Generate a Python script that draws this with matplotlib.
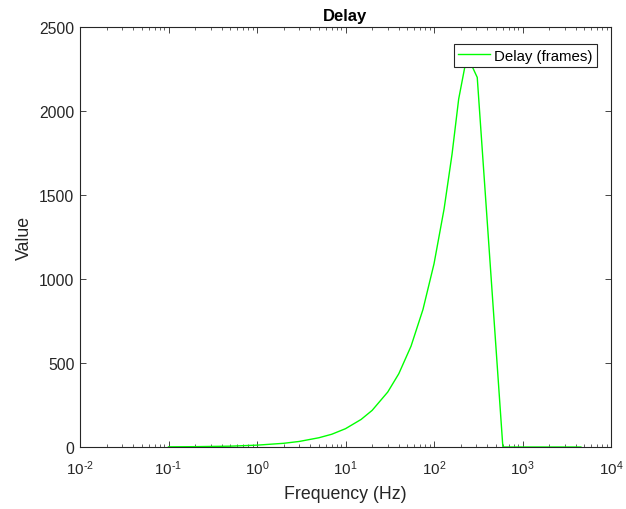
import matplotlib
matplotlib.use('Agg')
import matplotlib.pyplot as plt
from matplotlib.ticker import LogLocator, FixedLocator, FuncFormatter
import numpy as np

# values
freq_hz = [0.1, 0.2, 0.5, 1, 2, 3, 5, 7, 10, 15, 20, 30, 40, 55, 75, 100,
           130, 160, 190, 240, 275, 308, 600, 1000, 2000, 4570]
delay_frames = [1, 2, 5, 11, 22, 33, 55, 76, 109, 164, 218, 327, 436, 600, 818, 1090,
                1417, 1744, 2071, 2350, 2256, 2200, 0, 0, 0, 0]
y_ticks = [0, 500, 1000, 1500, 2000, 2500]

plt.rcParams['font.family'] = ['Liberation Sans', 'DejaVu Sans']
plt.rcParams['mathtext.fontset'] = 'custom'
plt.rcParams['mathtext.rm'] = 'Liberation Sans'
plt.rcParams['mathtext.it'] = 'Liberation Sans'
plt.rcParams['mathtext.default'] = 'regular'
edge = '#262626'

fig = plt.figure(figsize=(6.26, 5.10), dpi=100)
ax = fig.add_axes([80 / 626, 1 - 448 / 510, 531 / 626, 420 / 510])

ax.plot(freq_hz, delay_frames, color='#00ff00', lw=1.0, label='Delay (frames)')

ax.set_xscale('log')
ax.set_xlim(1e-2, 1e4)
ax.set_ylim(0, 2500)
ax.yaxis.set_major_locator(FixedLocator(y_ticks))
ax.xaxis.set_major_locator(LogLocator(base=10, numticks=10))
ax.xaxis.set_minor_locator(LogLocator(base=10, subs=range(2, 10), numticks=20))
ax.xaxis.set_major_formatter(FuncFormatter(lambda v, p: r'$10^{\text{%d}}$' % round(np.log10(v))))

for s in ax.spines.values():
    s.set_color(edge)
    s.set_linewidth(0.8)
ax.tick_params(which='both', direction='in', top=True, right=True,
               colors=edge, labelcolor=edge)
ax.tick_params(axis='y', labelsize=11.3, pad=4)
ax.tick_params(axis='x', labelsize=11, pad=8)
ax.tick_params(which='major', length=4, width=0.6)
ax.tick_params(which='minor', length=2.5, width=0.5)

ax.set_xlabel('Frequency (Hz)', fontsize=12.8, color=edge, labelpad=6)
ax.set_ylabel('Value', fontsize=12.8, color=edge, labelpad=4.5)
ax.set_title('Delay', fontsize=12, fontweight='bold', color='black', pad=5)

leg = ax.legend(loc='upper right', fontsize=10.8, fancybox=False, framealpha=1,
                edgecolor=edge, handlelength=2.1, handletextpad=0.3,
                borderpad=0.3, borderaxespad=0,
                bbox_to_anchor=(517 / 531, 403 / 420))
leg.get_frame().set_linewidth(0.8)

fig.savefig('out.png', dpi=100)
